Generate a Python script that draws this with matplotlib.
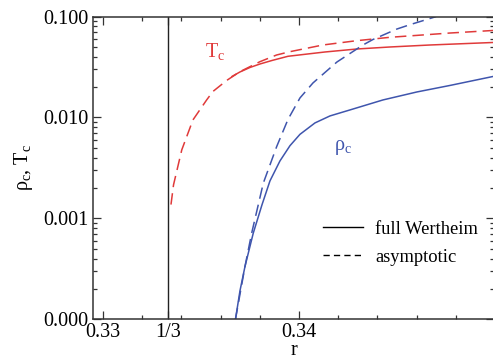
import matplotlib
matplotlib.use("Agg")
from matplotlib import pyplot as plt
from matplotlib.lines import Line2D
from matplotlib.ticker import FixedLocator, LogLocator, NullFormatter

plt.rcParams['font.family'] = ['Liberation Serif', 'DejaVu Serif']
plt.rcParams['mathtext.fontset'] = 'custom'
plt.rcParams['mathtext.rm'] = 'Liberation Serif'
plt.rcParams['mathtext.it'] = 'Liberation Serif'

# asymptotic T_c
r_tc_asym = [0.33347, 0.33360, 0.33402, 0.33459, 0.33529, 0.33561, 0.33631, 0.33699,
             0.33801, 0.33886, 0.33954, 0.34122, 0.34294, 0.34464, 0.34770, 0.34990]
tc_asym = [0.00137, 0.00215, 0.00477, 0.00945, 0.01491, 0.01808, 0.02324, 0.02842,
           0.03568, 0.04157, 0.04482, 0.05221, 0.05760, 0.06222, 0.06860, 0.07270]

# full Wertheim T_c
r_tc_full = [0.336582, 0.336990, 0.337500, 0.338010, 0.338622, 0.339439, 0.340306,
             0.341327, 0.342959, 0.344643, 0.346684, 0.349898]
tc_full = [0.02547, 0.02822, 0.03126, 0.03385, 0.03667, 0.04035, 0.04222,
           0.04451, 0.04766, 0.04989, 0.05221, 0.05528]

# asymptotic rho_c
r_rho_asym = [0.336760, 0.337245, 0.337587, 0.338179, 0.338862, 0.339439, 0.340051,
              0.340714, 0.341939, 0.343265, 0.343776, 0.345000, 0.345663, 0.346939, 0.347449]
rho_asym = [1.00e-4, 3.333e-4, 7.14e-4, 2.231e-3, 5.14e-3, 0.009554, 0.01560, 0.02196,
            0.03544, 0.05221, 0.05920, 0.07519, 0.08300, 0.0990, 0.1095]

# full Wertheim rho_c
r_rho_full = [0.336760, 0.336990, 0.337245, 0.337668, 0.338112, 0.338520, 0.339031,
              0.339541, 0.340051, 0.340816, 0.341582, 0.342602, 0.344286, 0.346020,
              0.347704, 0.349898]
rho_full = [1.00e-4, 1.915e-4, 3.333e-4, 7.14e-4, 1.361e-3, 2.351e-3, 3.710e-3, 5.250e-3,
            6.800e-3, 8.822e-3, 0.010349, 0.011866, 0.014905, 0.017886, 0.020745, 0.025450]

x_major = [0.33, 1 / 3, 0.34]
x_major_labels = ["0.33", "1/3", "0.34"]
x_minor = [0.332, 0.334, 0.336, 0.338, 0.342, 0.344, 0.346, 0.348]
y_major = [1e-4, 1e-3, 1e-2, 1e-1]
y_major_labels = ["0.000", "0.001", "0.010", "0.100"]

red = '#e03a3a'
blue = '#3f55ad'

fig = plt.figure(figsize=(4.93, 3.62), dpi=100)
ax = fig.add_axes([0.1886, 0.118, 0.8134, 0.8364])

ax.plot(r_tc_asym, tc_asym, color=red, lw=1.1, dashes=(7.5, 4))
ax.plot(r_tc_full, tc_full, color=red, lw=1.1)
ax.plot(r_rho_asym, rho_asym, color=blue, lw=1.1, dashes=(7.5, 4))
ax.plot(r_rho_full, rho_full, color=blue, lw=1.1)
ax.axvline(1 / 3, color='#222222', lw=1.0)

ax.set_yscale('log')
ax.set_xlim(0.32949, 0.34995)
ax.set_ylim(1e-4, 1e-1)

ax.xaxis.set_major_locator(FixedLocator(x_major))
ax.set_xticklabels(x_major_labels)
ax.xaxis.set_minor_locator(FixedLocator(x_minor))
ax.yaxis.set_major_locator(FixedLocator(y_major))
ax.set_yticklabels(y_major_labels)
ax.yaxis.set_minor_locator(LogLocator(base=10, subs=range(2, 10)))
ax.yaxis.set_minor_formatter(NullFormatter())

ax.tick_params(which='both', direction='in', top=True, right=True, labelsize=14.5,
               color='#333333', width=0.9)
ax.tick_params(which='major', length=6, pad=3)
ax.tick_params(which='minor', length=3)
for s in ax.spines.values():
    s.set_color('#333333')
    s.set_linewidth(1.1)

ax.set_xlabel("r", fontsize=14.5, labelpad=-1)
ax.set_ylabel(r"$\rho_c$, T$_c$", fontsize=14.5, labelpad=6)

ax.text(0.335714, 0.0445, r"T$_c$", color=red, fontsize=14.5, ha='center', va='center')
ax.text(0.34224, 0.00499, r"$\rho_c$", color=blue, fontsize=14.5, ha='center', va='center')

handles = [Line2D([], [], color='black', lw=1.0),
           Line2D([], [], color='black', lw=1.0, dashes=(4.5, 3))]
ax.legend(handles, ["full Wertheim", "asymptotic"], loc='upper left',
          bbox_to_anchor=(0.55, 0.356), frameon=False, fontsize=13.3,
          handlelength=2.2, handletextpad=0.65, labelspacing=0.6, borderpad=0)

fig.savefig("out.png", dpi=100)
